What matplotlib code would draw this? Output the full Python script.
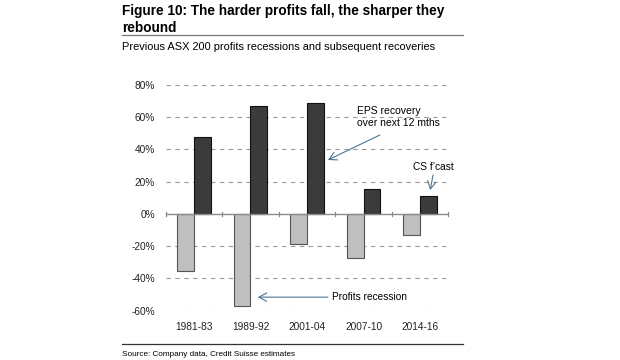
import matplotlib
matplotlib.use("Agg")
import matplotlib.pyplot as plt
import numpy as np

plt.rcParams["font.family"] = ["Liberation Sans", "DejaVu Sans"]

# data
periods = ["1981-83", "1989-92", "2001-04", "2007-10", "2014-16"]
recession = [-35.6, -57.0, -18.8, -27.5, -13.0]
recovery = [47.8, 66.8, 69.1, 15.3, 11.4]
yticks = [-60, -40, -20, 0, 20, 40, 60, 80]

W, H = 620, 360
fig = plt.figure(figsize=(W / 100, H / 100), dpi=100)

# axes placed by pixel box
left, right, top, bottom = 165.7, 448.3, 85.0, 310.7
ax = fig.add_axes([left / W, 1 - bottom / H, (right - left) / W, (bottom - top) / H])

x = np.arange(len(periods))
bw = 0.3
ax.bar(x - bw / 2, recession, bw, color="#bfbfbf", edgecolor="#555555", linewidth=0.8, zorder=3)
ax.bar(x + bw / 2, recovery, bw, color="#3b3b3b", edgecolor="#111111", linewidth=0.8, zorder=3)

ax.set_xlim(-0.5, len(periods) - 0.5)
ax.set_ylim(-60, 80)
ax.set_yticks(yticks)
ax.set_yticklabels([f"{v}%" for v in yticks])
for v in yticks:
    if v != 0:
        ax.axhline(v, color="#9a9a9a", lw=0.8, ls=(0, (4, 4)), zorder=1)
ax.axhline(0, color="#8a8a8a", lw=1.0, zorder=4)
# small category separators on the zero line
for b in np.arange(-0.5, len(periods), 1.0):
    ax.plot([b, b], [-1.2, 1.2], color="#8a8a8a", lw=0.9, zorder=4, clip_on=False)

ax.set_xticks(x)
ax.set_xticklabels(periods)
ax.tick_params(axis="both", length=0, labelsize=7.3, colors="#222222")
ax.tick_params(axis="y", pad=7.7)
ax.tick_params(axis="x", pad=8)
for s in ax.spines.values():
    s.set_visible(False)

acol = "#4f7590"
aprops = dict(arrowstyle="->,head_length=0.55,head_width=0.3", color=acol, lw=0.8,
              shrinkA=0, shrinkB=0)
ax.annotate("EPS recovery\nover next 12 mths", xy=(2.37, 33.5), xytext=(2.886, 60.2),
            fontsize=7.5, va="center", ha="left", linespacing=1.35)
ax.annotate("", xy=(2.37, 33.5), xytext=(3.29, 49), arrowprops=aprops)
ax.annotate("CS f\u2019cast", xy=(4.18, 14.8), xytext=(3.88, 29.3),
            fontsize=7.3, va="center", ha="left")
ax.annotate("", xy=(4.18, 14.8), xytext=(4.23, 24.2), arrowprops=aprops)
ax.annotate("Profits recession", xy=(1.13, -51.6), xytext=(2.44, -51.6),
            fontsize=7.3, va="center", ha="left")
ax.annotate("", xy=(1.13, -51.6), xytext=(2.37, -51.6), arrowprops=aprops)

# header, rules and footer
fig.text(122 / W, 1 - 15.5 / H, "Figure 10: The harder profits fall, the sharper they",
         fontsize=9.8, fontweight="bold", va="baseline", ha="left")
fig.text(122 / W, 1 - 31.5 / H, "rebound",
         fontsize=9.8, fontweight="bold", va="baseline", ha="left")
fig.add_artist(plt.Line2D([122 / W, 463 / W], [1 - 34.7 / H] * 2, color="#777777", lw=0.9))
fig.text(122 / W, 1 - 47 / H, "Previous ASX 200 profits recessions and subsequent recoveries",
         fontsize=7.9, va="center", ha="left")
fig.add_artist(plt.Line2D([122 / W, 463 / W], [1 - 344 / H] * 2, color="#333333", lw=0.9))
fig.text(122 / W, 1 - 354 / H, "Source: Company data, Credit Suisse estimates",
         fontsize=5.9, va="center", ha="left")

fig.savefig("out.png", dpi=100)
